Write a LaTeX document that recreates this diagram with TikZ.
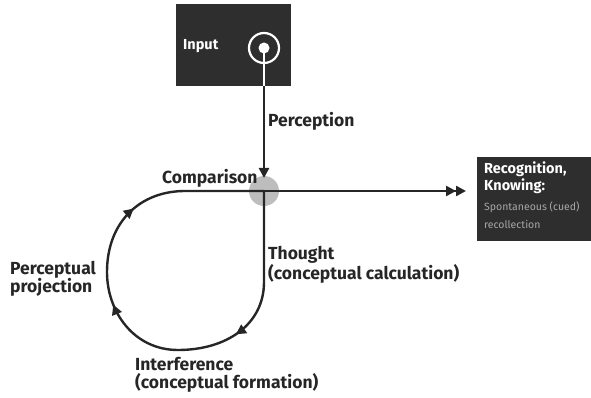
\documentclass[tikz,border=0pt]{standalone}
\usepackage{fontspec}
\setmainfont{Fira Sans}
\usetikzlibrary{arrows.meta,decorations.markings}
\definecolor{boxc}{HTML}{2E2E2E}
\definecolor{ink}{HTML}{262626}
\definecolor{lightt}{HTML}{A8A8A8}
\tikzset{
  lbl/.style={font=\fontsize{17.5}{18.5}\selectfont\bfseries, text=ink, anchor=west, align=left, inner sep=0pt},
  darkbox/.style={fill=boxc, draw=none},
  flow/.style={draw=ink, line width=2.4pt},
  bigtip/.tip={Triangle[length=10pt,width=10pt]},
}
\begin{document}
\begin{tikzpicture}[x=1pt,y=-1pt]
\useasboundingbox (0,0) rectangle (591,398);
% input box
\node[darkbox, minimum width=115pt, minimum height=82pt, anchor=north west, inner sep=0pt] (inbox) at (176,4) {};
\node[font=\fontsize{14.5}{16}\selectfont\bfseries, text=white, anchor=west, inner sep=0pt] (intext) at (183,46) {Input};
\node[circle, draw=white, line width=2.2pt, minimum size=30pt, inner sep=0pt] (ring) at (264,48) {};
\node[circle, fill=white, minimum size=11pt, inner sep=0pt] (dot) at (264,48) {};
% comparison point
\node[circle, fill=black!32, minimum size=30pt, inner sep=0pt, opacity=0.8] (cmp) at (264,191) {};
% perception arrow
\draw[draw=white, line width=2.4pt] (dot.center) -- (264,86);
\draw[flow, -{bigtip}] (264,86) -- (264,178);
% loop
\coordinate (cross) at (264,191);
\draw[flow, postaction={decorate}, decoration={markings,
   mark=at position 0.285 with {\arrow{bigtip}},
   mark=at position 0.555 with {\arrow{bigtip}},
   mark=at position 0.75 with {\arrow{bigtip}}}]
  (cross) -- (264,282) .. controls (264,325) and (226,350) .. (178,350)
  .. controls (134,350) and (107,312) .. (107,272)
  .. controls (107,222) and (140,191) .. (185,191) -- (cross);
% output
\node[darkbox, minimum width=114pt, minimum height=84pt, anchor=north west, inner sep=0pt] (outbox) at (477,157) {};
\draw[flow, -{Triangle[length=10pt,width=10pt]Triangle[length=10pt,width=10pt]}] (cross) -- (466,191);
\node[font=\fontsize{14.5}{17}\selectfont\bfseries, text=white, anchor=north west, align=left, inner sep=0pt] (rec) at (484,162) {Recognition,\\Knowing:};
\node[font=\fontsize{10.5}{18}\selectfont, text=lightt, anchor=north west, align=left, inner sep=0pt] (spon) at (484,201) {Spontaneous (cued)\\recollection};
% labels
\node[lbl] (perc) at (268,121) {Perception};
\node[lbl] (comp) at (162,178) {Comparison};
\node[lbl] (thought) at (268,265) {Thought\\(conceptual calculation)};
\node[lbl] (proj) at (10,279) {Perceptual\\projection};
\node[lbl] (inter) at (135,375) {Interference\\(conceptual formation)};
\end{tikzpicture}
\end{document}
